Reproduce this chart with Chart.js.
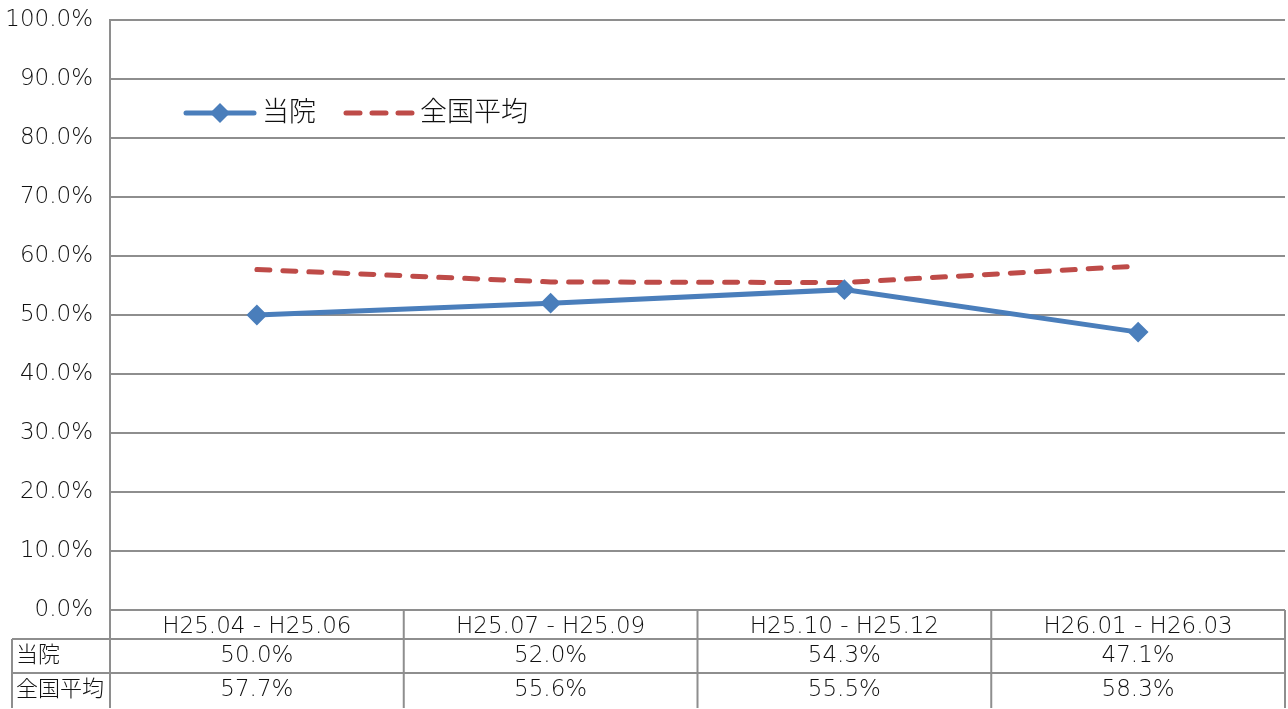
<!DOCTYPE html>
<html>
<head>
<meta charset="utf-8">
<script src="https://cdn.jsdelivr.net/npm/chart.js@4/dist/chart.umd.min.js"></script>
<style>
  html, body { margin: 0; padding: 0; background: #fff; }
  #wrap { width: 1288px; height: 709px; }
</style>
</head>
<body>
<div id="wrap"><canvas id="rateChart" width="1288" height="709"></canvas></div>
<script>
// quarters (fiscal H25)
const periods = ['H25.04 - H25.06', 'H25.07 - H25.09', 'H25.10 - H25.12', 'H26.01 - H26.03'];
const hospitalName = '当院';
const nationalName = '全国平均';
const hospitalRates = [50.0, 52.0, 54.3, 47.1];
const nationalRates = [57.7, 55.6, 55.5, 58.3];

const FONT = "'DejaVu Sans', 'Noto Sans CJK JP', sans-serif";
const WEIGHT = 300;
const GRID = '#8e8e8e';
const BLUE = '#4a7ebb';
const RED = '#be4b48';

// table under the plot + legend inside the plot
const dataTable = {
  id: 'dataTable',
  afterDraw(chart) {
    const { ctx, chartArea: area, scales: { x } } = chart;
    const rowTop = area.bottom;
    const rowH = [29, 34, 35];
    const rows = [rowTop, rowTop + rowH[0], rowTop + rowH[0] + rowH[1], rowTop + rowH[0] + rowH[1] + rowH[2]];
    const labelLeft = 12;
    const colW = (area.right - area.left) / periods.length;

    ctx.save();
    ctx.strokeStyle = GRID;
    ctx.lineWidth = 2;
    ctx.beginPath();
    // horizontal rules of the value rows
    ctx.moveTo(labelLeft, rows[1]); ctx.lineTo(area.right, rows[1]);
    ctx.moveTo(labelLeft, rows[2]); ctx.lineTo(area.right, rows[2]);
    // label column border
    ctx.moveTo(labelLeft, rows[1]); ctx.lineTo(labelLeft, rows[3]);
    // column dividers
    for (let i = 0; i <= periods.length; i++) {
      const px = area.left + colW * i;
      ctx.moveTo(px, i === 0 ? area.top : rows[0]);
      ctx.lineTo(px, rows[3]);
    }
    ctx.stroke();

    ctx.fillStyle = '#111';
    ctx.font = `${WEIGHT} 22px ${FONT}`;
    ctx.textBaseline = 'middle';
    ctx.textAlign = 'left';
    ctx.fillText(hospitalName, labelLeft + 4, (rows[1] + rows[2]) / 2);
    ctx.fillText(nationalName, labelLeft + 4, (rows[2] + rows[3]) / 2);
    ctx.textAlign = 'center';
    ctx.font = `${WEIGHT} 23px ${FONT}`;
    periods.forEach((p, i) => {
      const cx = x.getPixelForValue(i);
      ctx.fillText(hospitalRates[i].toFixed(1) + '%', cx, (rows[1] + rows[2]) / 2);
      ctx.fillText(nationalRates[i].toFixed(1) + '%', cx, (rows[2] + rows[3]) / 2);
    });

    // legend
    const ly = area.top + 93;
    let lx = area.left + 76;
    ctx.lineCap = 'round';
    ctx.lineWidth = 5;
    ctx.strokeStyle = BLUE;
    ctx.beginPath(); ctx.moveTo(lx, ly); ctx.lineTo(lx + 68, ly); ctx.stroke();
    ctx.fillStyle = BLUE;
    ctx.beginPath();
    ctx.moveTo(lx + 34, ly - 10); ctx.lineTo(lx + 44, ly); ctx.lineTo(lx + 34, ly + 10); ctx.lineTo(lx + 24, ly);
    ctx.closePath(); ctx.fill();
    ctx.fillStyle = '#111';
    ctx.textAlign = 'left';
    ctx.font = `${WEIGHT} 27px ${FONT}`;
    ctx.fillText(hospitalName, lx + 76, ly + 1);

    lx = area.left + 236;
    ctx.strokeStyle = RED;
    ctx.setLineDash([14, 12]);
    ctx.beginPath(); ctx.moveTo(lx, ly); ctx.lineTo(lx + 72, ly); ctx.stroke();
    ctx.setLineDash([]);
    ctx.fillText(nationalName, lx + 74, ly + 1);
    ctx.restore();
  }
};

new Chart(document.getElementById('rateChart'), {
  type: 'line',
  data: {
    labels: periods,
    datasets: [
      {
        label: hospitalName,
        data: hospitalRates,
        borderColor: BLUE,
        backgroundColor: BLUE,
        borderWidth: 5,
        pointStyle: 'rectRot',
        pointRadius: 9,
        pointBorderWidth: 2,
        tension: 0
      },
      {
        label: nationalName,
        data: nationalRates,
        borderColor: RED,
        backgroundColor: RED,
        borderWidth: 5,
        borderDash: [13, 13],
        borderCapStyle: 'round',
        pointRadius: 0,
        tension: 0
      }
    ]
  },
  options: {
    responsive: false,
    animation: false,
    layout: { autoPadding: false, padding: { top: 20, right: 3, left: 0, bottom: 0 } },
    plugins: { legend: { display: false }, tooltip: { enabled: false } },
    scales: {
      x: {
        offset: true,
        grid: { display: false, drawTicks: false },
        border: { display: false },
        ticks: { color: '#111', font: { family: FONT, size: 23, weight: WEIGHT }, padding: 3, maxRotation: 0 },
        afterFit(scale) { scale.height = 99; }
      },
      y: {
        min: 0,
        max: 100,
        grid: { color: GRID, lineWidth: 2, drawTicks: false },
        border: { color: GRID, width: 2 },
        ticks: {
          stepSize: 10,
          color: '#111',
          padding: 17,
          font: { family: FONT, size: 23, weight: WEIGHT },
          callback: v => v.toFixed(1) + '%'
        },
        afterFit(scale) {
          scale.width = 110;
          scale.paddingTop = 0;
          scale.paddingBottom = 0;
        }
      }
    }
  },
  plugins: [dataTable]
});
</script>
</body>
</html>
